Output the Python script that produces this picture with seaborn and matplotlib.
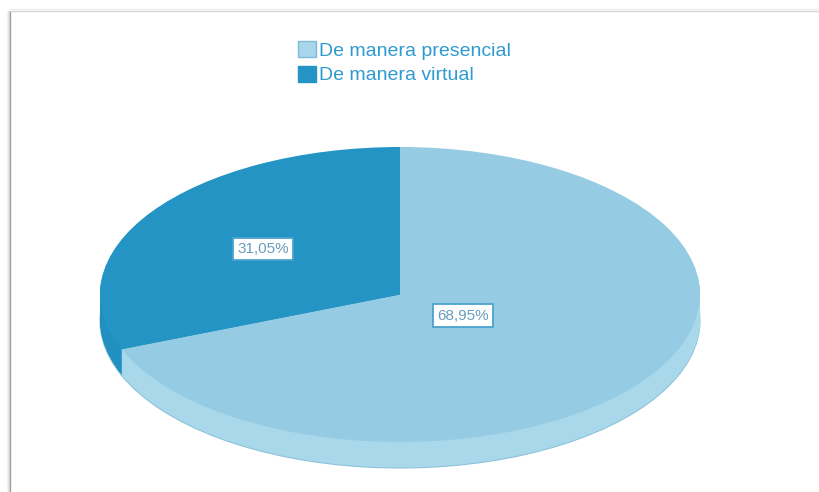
import numpy as np
import matplotlib
matplotlib.use("Agg")
import matplotlib.pyplot as plt
from matplotlib.patches import Patch
from matplotlib.lines import Line2D
import seaborn as sns

# ---- data ----
categories = ["De manera presencial", "De manera virtual"]
values = [68.95, 31.05]

# ---- style ----
top_colors = ["#96cce3", "#2394c4"]
side_colors = ["#a9d8eb", "#2190c0"]
legend_colors = ["#a8d6ea", "#2394c4"]
label_dist = [0.255, 0.55]

sns.set_theme(style="white")
plt.rcParams["font.family"] = ["Liberation Sans", "DejaVu Sans"]

W, H = 819, 492
fig = plt.figure(figsize=(W / 100, H / 100), dpi=100)
ax = fig.add_axes([0, 0, 1, 1])

# pixel geometry of the ellipse
cx, cy, a, b = 400.0, 294.5, 300.0, 147.5
depth_px = 26

# side of the disc: stacked shifted pies
nlay = depth_px
for i in range(nlay, 0, -1):
    d = i / b
    wp = dict(edgecolor="none", linewidth=0)
    if i == nlay:
        wp = dict(edgecolor="#8dc2db", linewidth=0.8)
    ax.pie(values, colors=side_colors, startangle=90, counterclock=False,
           center=(0, -d), radius=1.0, wedgeprops=wp, frame=True)

# top face
def fmt(p):
    return f"{p:.2f}%".replace(".", ",")

wedges, texts, autotexts = ax.pie(
    values, colors=top_colors, startangle=90, counterclock=False,
    center=(0, 0), radius=1.0, autopct=fmt, pctdistance=0.5,
    wedgeprops=dict(edgecolor="none", linewidth=0), frame=True)

for t, f in zip(autotexts, label_dist):
    x, y = t.get_position()
    t.set_position((x / 0.5 * f, y / 0.5 * f))
    t.set_fontsize(11)
    t.set_color("#6a9cbd")
    t.set_bbox(dict(facecolor="white", edgecolor="#4aa3cf", linewidth=1.3,
                    boxstyle="square,pad=0.28"))

ax.set_aspect("auto")
ax.set_xlim((0 - cx) / a, (W - cx) / a)
ax.set_ylim((cy - H) / b, (cy - 0) / b)
ax.set_xticks([])
ax.set_yticks([])
for s in ax.spines.values():
    s.set_visible(False)

# legend
handles = [Patch(facecolor=legend_colors[0], edgecolor="#7dbcd8", linewidth=1.0),
           Patch(facecolor=legend_colors[1], edgecolor=legend_colors[1], linewidth=1.0)]
leg = fig.legend(handles, categories, loc="upper left",
                 bbox_to_anchor=(298 / W, 1 - 41 / H), frameon=False,
                 fontsize=14, handlelength=0.9, handleheight=0.9,
                 handletextpad=0.2, labelspacing=0.3, borderpad=0,
                 borderaxespad=0, labelcolor="#2f9ad0")

# frame with shadow
for k, (alpha) in enumerate([0.08, 0.15, 0.25]):
    fig.add_artist(Line2D([(7 + k) / W, (7 + k) / W], [0, 1 - 11 / H],
                          transform=fig.transFigure, color="#888888",
                          alpha=alpha, linewidth=1))
fig.add_artist(Line2D([10 / W, 10 / W], [0, 1 - 11 / H],
                      transform=fig.transFigure, color="#a0a0a0", linewidth=1))
fig.add_artist(Line2D([10 / W, 1], [1 - 11 / H, 1 - 11 / H],
                      transform=fig.transFigure, color="#d6d6d6", linewidth=1))
fig.add_artist(Line2D([10 / W, 1], [1 - 9 / H, 1 - 9 / H],
                      transform=fig.transFigure, color="#ededed", linewidth=1))

fig.savefig("out.png", dpi=100, facecolor="white")
